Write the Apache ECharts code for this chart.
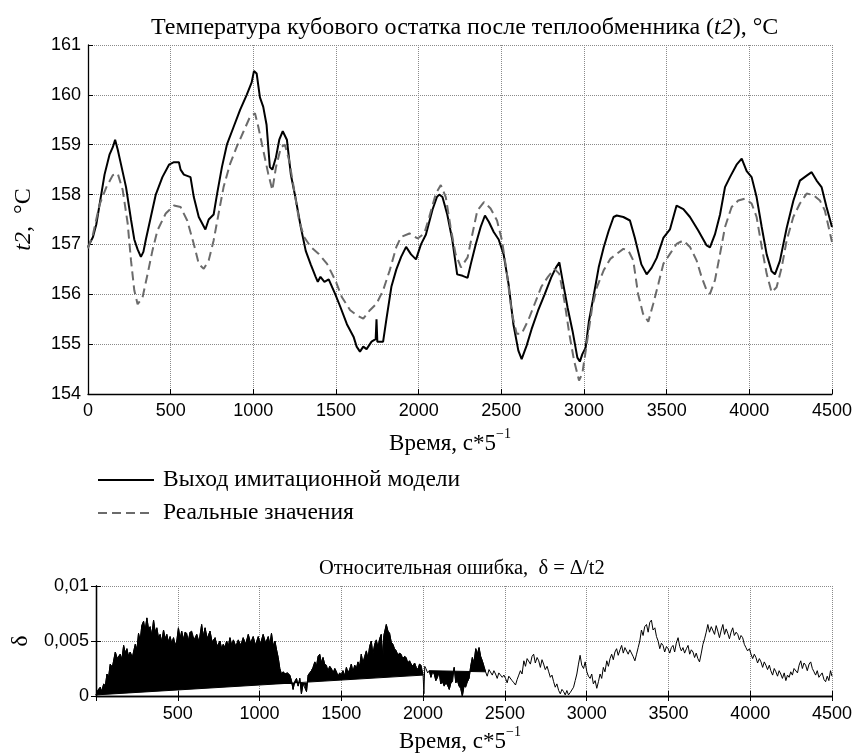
<!DOCTYPE html>
<html><head><meta charset="utf-8">
<script src="https://cdn.jsdelivr.net/npm/echarts@6/dist/echarts.min.js"></script>
<style>html,body{margin:0;padding:0;background:#fff}#c{width:855px;height:754px}</style>
</head><body><div id="c"></div>
<script>
// ---- data ----
var xTicksTop = [0,500,1000,1500,2000,2500,3000,3500,4000,4500];
var yTicksTop = [154,155,156,157,158,159,160,161];
var seriesNames = ['Выход имитационной модели', 'Реальные значения'];

var modelPoints = [
[0,156.95],[30,157.15],[50,157.4],[70,157.8],[100,158.4],[130,158.8],[150,158.95],[164,159.1],[180,158.9],[200,158.6],
[230,158.15],[260,157.5],[280,157.1],[300,156.9],[320,156.75],[335,156.85],[350,157.1],[380,157.55],[410,158.0],[450,158.35],
[490,158.6],[520,158.65],[550,158.65],[560,158.5],[580,158.4],[620,158.35],[640,157.95],[670,157.55],[710,157.3],[730,157.5],
[760,157.6],[780,158.0],[810,158.55],[840,159.0],[880,159.35],[920,159.7],[960,160.0],[990,160.25],[1004,160.48],[1020,160.43],
[1040,159.95],[1060,159.76],[1080,159.4],[1100,158.55],[1115,158.5],[1137,158.75],[1157,159.1],[1178,159.27],[1203,159.1],[1227,158.4],
[1257,157.9],[1287,157.35],[1317,156.87],[1347,156.6],[1377,156.35],[1390,156.25],[1406,156.35],[1430,156.25],[1456,156.3],[1496,156.0],
[1526,155.75],[1566,155.4],[1606,155.15],[1625,154.95],[1645,154.85],[1665,154.95],[1685,154.9],[1715,155.05],[1740,155.1],[1745,155.5],
[1750,155.05],[1785,155.05],[1805,155.5],[1835,156.15],[1865,156.5],[1894,156.75],[1924,156.95],[1954,156.8],[1984,156.7],[2014,157.0],
[2044,157.2],[2084,157.7],[2110,157.95],[2124,158.0],[2144,157.95],[2173,157.6],[2203,157.1],[2233,156.4],[2266,156.37],[2296,156.33],
[2315,156.6],[2345,157.0],[2375,157.35],[2401,157.58],[2425,157.45],[2454,157.25],[2484,157.1],[2514,156.8],[2544,156.2],[2573,155.4],
[2603,154.87],[2623,154.7],[2653,154.97],[2683,155.3],[2722,155.67],[2762,156.0],[2802,156.34],[2831,156.54],[2851,156.64],[2871,156.27],
[2901,155.73],[2931,155.26],[2960,154.73],[2975,154.65],[2990,154.8],[3010,154.93],[3030,155.46],[3060,156.0],[3089,156.54],[3119,156.94],
[3149,157.27],[3179,157.55],[3198,157.58],[3238,157.55],[3278,157.48],[3307,157.14],[3347,156.6],[3379,156.4],[3409,156.53],[3440,156.73],
[3480,157.13],[3520,157.3],[3560,157.78],[3601,157.71],[3641,157.55],[3691,157.28],[3742,156.98],[3762,156.94],[3792,157.2],[3823,157.6],
[3853,158.15],[3883,158.35],[3923,158.6],[3954,158.72],[3984,158.47],[4014,158.35],[4044,157.95],[4075,157.35],[4105,156.8],[4135,156.46],
[4155,156.4],[4185,156.67],[4226,157.33],[4266,157.87],[4306,158.28],[4347,158.38],[4377,158.45],[4407,158.28],[4437,158.15],[4467,157.75],
[4500,157.35]
];

var realPoints = [
[0,156.92],[30,157.2],[70,157.8],[110,158.14],[150,158.39],[180,158.42],[210,158.09],[240,157.42],[260,156.68],[280,156.08],
[300,155.8],[330,155.94],[360,156.4],[390,156.88],[420,157.28],[470,157.62],[520,157.78],[560,157.75],[600,157.48],[640,157.01],
[670,156.61],[700,156.51],[730,156.68],[760,157.08],[790,157.62],[820,158.15],[860,158.62],[900,158.96],[940,159.26],[980,159.56],
[1010,159.63],[1030,159.36],[1060,158.89],[1090,158.42],[1115,158.09],[1137,158.55],[1167,158.95],[1191,159.0],[1217,158.68],[1247,158.09],
[1277,157.48],[1307,157.15],[1347,156.95],[1396,156.81],[1446,156.61],[1496,156.28],[1536,155.94],[1586,155.68],[1625,155.58],[1665,155.51],
[1705,155.68],[1745,155.81],[1785,156.08],[1825,156.48],[1865,156.95],[1894,157.15],[1944,157.22],[1994,157.12],[2034,157.22],[2064,157.55],
[2104,158.02],[2134,158.19],[2164,157.95],[2193,157.35],[2223,156.81],[2256,156.54],[2296,156.74],[2325,157.21],[2355,157.68],[2395,157.85],
[2435,157.72],[2474,157.48],[2504,157.08],[2534,156.41],[2564,155.61],[2593,155.21],[2623,155.21],[2663,155.48],[2702,155.81],[2742,156.15],
[2782,156.35],[2821,156.51],[2851,156.41],[2881,155.88],[2911,155.21],[2940,154.67],[2970,154.27],[2990,154.41],[3020,155.08],[3050,155.75],
[3079,156.15],[3119,156.48],[3159,156.71],[3198,156.81],[3238,156.91],[3268,156.88],[3298,156.68],[3327,156.01],[3357,155.61],[3389,155.45],
[3419,155.81],[3450,156.21],[3480,156.61],[3520,156.81],[3560,157.01],[3601,157.08],[3641,156.95],[3681,156.68],[3712,156.34],[3742,156.08],
[3762,156.01],[3792,156.28],[3823,156.81],[3853,157.35],[3893,157.75],[3933,157.88],[3974,157.92],[4014,157.82],[4044,157.55],[4075,156.95],
[4105,156.41],[4135,156.04],[4165,156.14],[4196,156.54],[4226,157.08],[4266,157.55],[4306,157.82],[4347,158.02],[4387,157.99],[4427,157.88],
[4457,157.68],[4500,157.05]
];

var errPoints = [
[0,0.0001],[10,0.0005],[26,0.0008],[35,0.0004],[47,0.0011],[57,0.0009],[67,0.002],[77,0.0017],[87,0.0029],[100,0.0026],
[118,0.004],[130,0.0034],[148,0.0038],[158,0.0033],[169,0.0046],[179,0.0039],[189,0.0043],[199,0.0036],[209,0.004],[222,0.0035],
[240,0.0047],[250,0.0042],[260,0.0057],[270,0.005],[280,0.0064],[291,0.0068],[300,0.0059],[311,0.0071],[321,0.0061],[331,0.0063],
[341,0.0055],[352,0.0069],[362,0.0058],[372,0.0062],[382,0.0053],[392,0.0056],[402,0.0049],[413,0.006],[423,0.0052],[433,0.0056],
[443,0.0049],[453,0.0054],[463,0.0048],[474,0.0053],[484,0.0046],[494,0.005],[504,0.0062],[514,0.0052],[524,0.0059],[535,0.0051],
[545,0.0058],[555,0.0057],[565,0.005],[575,0.0058],[585,0.0059],[600,0.0051],[616,0.0056],[630,0.0049],[646,0.0065],[656,0.0054],
[667,0.0062],[680,0.0052],[697,0.0059],[710,0.0049],[728,0.0053],[740,0.0045],[758,0.005],[768,0.0043],[778,0.0047],[788,0.0044],
[799,0.005],[809,0.0045],[819,0.0053],[830,0.0046],[840,0.0051],[855,0.0045],[870,0.0051],[885,0.0046],[900,0.0053],[915,0.0047],
[931,0.0056],[945,0.0048],[961,0.0054],[975,0.0046],[992,0.0054],[1005,0.0047],[1022,0.0056],[1037,0.0048],[1053,0.0054],[1063,0.0047],
[1073,0.0057],[1084,0.0045],[1094,0.005],[1104,0.0042],[1114,0.0035],[1124,0.0025],[1134,0.002],[1145,0.0022],[1155,0.002],[1170,0.0021],
[1185,0.0019],[1195,0.0014],[1205,0.0006],[1215,0.0013],[1226,0.0016],[1236,0.0009],[1246,0.0016],[1256,0.0002],[1266,0.0011],[1277,0.001],
[1287,0.0004],[1297,0.0019],[1307,0.0021],[1317,0.0023],[1327,0.0026],[1338,0.0031],[1348,0.0027],[1358,0.0036],[1368,0.0038],[1378,0.003],
[1388,0.0035],[1398,0.0029],[1409,0.0028],[1419,0.0023],[1429,0.0027],[1439,0.0025],[1450,0.0021],[1460,0.0025],[1470,0.0022],[1480,0.0018],
[1490,0.0021],[1500,0.0019],[1510,0.0023],[1520,0.0018],[1531,0.0026],[1541,0.0021],[1551,0.0024],[1561,0.0029],[1571,0.0022],[1582,0.0028],
[1592,0.0025],[1602,0.0031],[1612,0.0027],[1622,0.0038],[1632,0.003],[1643,0.0036],[1653,0.0041],[1663,0.0034],[1673,0.0045],[1683,0.005],
[1693,0.0038],[1704,0.0047],[1714,0.0051],[1724,0.0044],[1734,0.0052],[1744,0.0056],[1754,0.0034],[1760,0.0055],[1775,0.0065],[1785,0.0059],
[1795,0.0057],[1805,0.0049],[1815,0.0047],[1825,0.0043],[1836,0.0041],[1846,0.0037],[1856,0.0039],[1866,0.0038],[1876,0.0034],[1887,0.0036],
[1897,0.0035],[1907,0.003],[1917,0.0032],[1927,0.0029],[1937,0.0027],[1948,0.003],[1958,0.0026],[1968,0.0024],[1978,0.0029],[1988,0.0028],
[2000,0.0019],[2005,0.0002],[2010,0.0027],[2017,0.0025],[2028,0.0021],[2038,0.0023],[2048,0.0017],[2058,0.0022],[2068,0.002],[2078,0.0014],
[2088,0.0017],[2098,0.0022],[2108,0.0011],[2119,0.0013],[2129,0.0009],[2139,0.0012],[2149,0.001],[2160,0.0006],[2170,0.0012],[2180,0.0013],
[2190,0.0026],[2200,0.0012],[2210,0.0014],[2220,0.0009],[2230,0.0007],[2240,0.0],[2250,0.0009],[2261,0.0008],[2271,0.0013],[2281,0.0016],
[2291,0.0027],[2301,0.0035],[2311,0.003],[2322,0.0043],[2332,0.0038],[2342,0.0044],[2352,0.0036],[2362,0.0032],[2372,0.0027],[2382,0.0022],
[2392,0.0018],[2403,0.0024],[2413,0.0025],[2423,0.0019],[2433,0.0023],[2443,0.002],[2453,0.0016],[2463,0.0021],[2474,0.0022],[2484,0.0017],
[2494,0.0019],[2504,0.0016],[2514,0.0012],[2524,0.0018],[2534,0.0017],[2544,0.0014],[2555,0.0012],[2565,0.001],[2575,0.0015],[2585,0.0019],
[2595,0.0023],[2605,0.002],[2616,0.0032],[2626,0.0027],[2636,0.0034],[2646,0.0035],[2656,0.0029],[2666,0.0036],[2676,0.0038],[2686,0.003],
[2697,0.0035],[2707,0.0032],[2717,0.0026],[2727,0.0033],[2737,0.0029],[2747,0.0024],[2758,0.0027],[2768,0.0022],[2778,0.0017],[2788,0.0019],
[2798,0.0013],[2808,0.0008],[2818,0.0011],[2829,0.0005],[2839,0.0002],[2849,0.0006],[2859,0.0004],[2869,0.0001],[2879,0.0005],[2889,0.0001],
[2899,0.0003],[2910,0.0002],[2920,0.0008],[2930,0.0014],[2940,0.002],[2950,0.0029],[2960,0.0037],[2970,0.0028],[2981,0.0025],[2991,0.0031],
[3001,0.0022],[3011,0.0018],[3021,0.0016],[3031,0.002],[3041,0.0011],[3052,0.0014],[3062,0.0007],[3072,0.0013],[3082,0.002],[3092,0.0016],
[3102,0.0026],[3112,0.0022],[3123,0.0032],[3133,0.0027],[3143,0.0034],[3153,0.0038],[3163,0.0033],[3173,0.004],[3183,0.0043],[3193,0.0037],
[3204,0.0042],[3214,0.0046],[3224,0.0039],[3234,0.0044],[3244,0.0043],[3254,0.0038],[3264,0.0042],[3274,0.0041],[3284,0.0036],[3295,0.0032],
[3305,0.0038],[3315,0.0044],[3325,0.005],[3335,0.006],[3345,0.0055],[3355,0.0063],[3366,0.0065],[3376,0.0058],[3386,0.0067],[3396,0.0069],
[3406,0.006],[3417,0.0062],[3427,0.0054],[3437,0.005],[3447,0.0043],[3457,0.0048],[3467,0.0046],[3477,0.004],[3488,0.0045],[3498,0.0043],
[3508,0.0039],[3518,0.0044],[3528,0.0046],[3538,0.004],[3548,0.0048],[3559,0.0053],[3569,0.0045],[3579,0.0041],[3589,0.0044],[3599,0.0039],
[3610,0.0043],[3620,0.0046],[3630,0.0038],[3640,0.0042],[3650,0.004],[3660,0.0035],[3670,0.0039],[3680,0.0034],[3690,0.0031],[3701,0.0039],
[3711,0.0047],[3721,0.0052],[3731,0.0058],[3741,0.0065],[3751,0.0058],[3762,0.0063],[3772,0.0062],[3782,0.0056],[3792,0.0064],[3802,0.0059],
[3812,0.0053],[3823,0.006],[3833,0.0065],[3843,0.0056],[3853,0.0061],[3863,0.0057],[3873,0.0052],[3883,0.0058],[3893,0.0062],[3903,0.0055],
[3914,0.0058],[3924,0.0056],[3934,0.0051],[3944,0.0055],[3954,0.0053],[3964,0.0047],[3974,0.0044],[3984,0.0041],[3995,0.0043],[4005,0.0038],
[4015,0.0034],[4025,0.0038],[4035,0.0035],[4045,0.003],[4056,0.0034],[4066,0.0031],[4076,0.0026],[4086,0.0031],[4096,0.0028],[4106,0.0024],
[4117,0.0028],[4126,0.0023],[4137,0.0019],[4147,0.0025],[4157,0.0022],[4167,0.0018],[4177,0.0023],[4187,0.002],[4197,0.0016],[4208,0.0021],
[4218,0.0014],[4228,0.0019],[4238,0.0017],[4248,0.0022],[4258,0.0019],[4268,0.0025],[4278,0.0025],[4289,0.0021],[4299,0.0028],[4309,0.0032],
[4319,0.0025],[4329,0.003],[4339,0.0028],[4349,0.0023],[4360,0.0029],[4370,0.0031],[4380,0.0025],[4390,0.0022],[4400,0.0019],[4410,0.0023],
[4420,0.0017],[4430,0.0016],[4440,0.0021],[4451,0.0015],[4461,0.0013],[4471,0.0018],[4481,0.0014],[4491,0.0023],[4500,0.0018]
];
// x ranges (data units) of the filled patches in the error plot: [start, baseline, end]
var errFillRanges = [[0,0,2000],[2038,0,2382]];
var yTicksBottom = [0, 0.005, 0.01];

// ---- chart ----
var SERIF = '"Liberation Serif","Times New Roman",serif';
var SANS = '"Liberation Sans",Arial,Helvetica,sans-serif';
var GRIDLINE = {show:true, lineStyle:{type:'dotted', color:'#8a8a8a', width:1}};
var AXLINE = {show:true, lineStyle:{color:'#000', width:1.3}};
var TICK = {show:true, inside:true, length:5, lineStyle:{color:'#000', width:1}};
var LBL = {fontFamily:SANS, fontSize:18, color:'#000'};
function plain(v){ return String(v); }
var timeName = '{a|Время, с*5}{s|−1}';
function timeRich(shift){
  return {a:{fontFamily:SERIF, fontSize:23, fontWeight:'normal', color:'#000', lineHeight:28, verticalAlign:'bottom'},
          s:{fontFamily:SERIF, fontSize:14, fontWeight:'normal', color:'#000', lineHeight:28, verticalAlign:'top', padding:[0,shift,0,0]}};
}

var chart = echarts.init(document.getElementById('c'), null, {renderer:'canvas'});
var option = {
  animation:false,
  backgroundColor:'#fff',
  title:[
    {text:'{a|Температура кубового остатка после теплообменника (}{i|t2}{a|), °C}',
     left:146, top:11,
     textStyle:{fontWeight:'normal', rich:{a:{fontFamily:SERIF, fontSize:24, fontWeight:'normal', color:'#000'},
                                           i:{fontFamily:SERIF, fontSize:24, fontWeight:'normal', fontStyle:'italic', color:'#000'}}}},
    {text:'{a|Относительная ошибка,  δ = Δ/t2}',
     left:314, top:553,
     textStyle:{fontWeight:'normal', rich:{a:{fontFamily:SERIF, fontSize:20.5, fontWeight:'normal', color:'#000'}}}}
  ],
  legend:{
    data:seriesNames, orient:'vertical', left:97, top:468, padding:0,
    itemWidth:56, itemHeight:24, itemGap:9,
    itemStyle:{color:'rgba(0,0,0,0)', borderWidth:0, opacity:0},
    textStyle:{fontFamily:SERIF, fontSize:23.5, color:'#000', padding:[0,0,0,4]}
  },
  grid:[
    {left:88, right:22, top:45, height:349},
    {left:96, right:22, top:586, height:113}
  ],
  xAxis:[
    {gridIndex:0, type:'value', min:xTicksTop[0], max:xTicksTop[xTicksTop.length-1], interval:500,
     axisLine:AXLINE, axisTick:TICK, splitLine:GRIDLINE,
     axisLabel:Object.assign({margin:8, formatter:plain}, LBL),
     name:timeName, nameLocation:'middle', nameGap:33, nameTextStyle:{rich:timeRich(20)}},
    {gridIndex:1, type:'value', min:0, max:4500, interval:500,
     axisLine:AXLINE, axisTick:TICK, splitLine:GRIDLINE,
     axisLabel:Object.assign({margin:9, formatter:function(v){return v===0?'':String(v);}}, LBL),
     name:timeName, nameLocation:'middle', nameGap:29, nameTextStyle:{rich:timeRich(8)}},
    {gridIndex:1, type:'value', position:'top', min:0, max:4500, interval:500,
     axisLine:AXLINE, axisTick:TICK, splitLine:{show:false}, axisLabel:{show:false}}
  ],
  yAxis:[
    {gridIndex:0, type:'value', min:yTicksTop[0], max:yTicksTop[yTicksTop.length-1], interval:1,
     axisLine:AXLINE, axisTick:TICK, splitLine:GRIDLINE,
     axisLabel:Object.assign({margin:7, formatter:plain}, LBL),
     name:'{i|t2}{a|,  °C}', nameLocation:'middle', nameGap:52,
     nameTextStyle:{rich:{i:{fontFamily:SERIF, fontSize:24, fontStyle:'italic', color:'#000'}, a:{fontFamily:SERIF, fontSize:24, color:'#000'}}}},
    {gridIndex:1, type:'value', min:yTicksBottom[0], max:yTicksBottom[2], interval:0.005,
     axisLine:AXLINE, axisTick:TICK, splitLine:GRIDLINE,
     axisLabel:Object.assign({margin:7, formatter:function(v){return String(v).replace('.', ',');}}, LBL),
     name:'δ', nameLocation:'middle', nameGap:61,
     nameTextStyle:{fontFamily:SERIF, fontSize:24, color:'#000'}},
    {gridIndex:1, type:'value', position:'right', min:0, max:0.01, interval:0.005,
     axisLine:AXLINE, axisTick:TICK, splitLine:{show:false}, axisLabel:{show:false}}
  ],
  series:[
    {name:seriesNames[0], type:'line', xAxisIndex:0, yAxisIndex:0, data:modelPoints,
     symbol:'none', itemStyle:{color:'#000'}, lineStyle:{color:'#000', width:2}, z:3},
    {name:seriesNames[1], type:'line', xAxisIndex:0, yAxisIndex:0, data:realPoints,
     symbol:'none', itemStyle:{color:'#6b6b6b'}, lineStyle:{color:'#6b6b6b', width:2, type:[9,5]}, z:3},
    {name:'errFill', type:'custom', xAxisIndex:1, yAxisIndex:1, data:errFillRanges,
     encode:{x:0, y:1}, silent:true, z:2,
     renderItem:function(params, api){
       var s = api.value(0), e = api.value(2);
       var pts = [];
       for (var i=0;i<errPoints.length;i++){
         if (errPoints[i][0] >= s && errPoints[i][0] <= e) pts.push(api.coord(errPoints[i]));
       }
       return {type:'polygon', shape:{points:pts}, style:{fill:'#000', stroke:'#000', lineWidth:1}};
     }},
    {name:'err', type:'line', xAxisIndex:1, yAxisIndex:1, data:errPoints,
     symbol:'none', itemStyle:{color:'#000'}, lineStyle:{color:'#000', width:1}, z:3}
  ]
};
chart.setOption(option);
</script>
</body></html>
